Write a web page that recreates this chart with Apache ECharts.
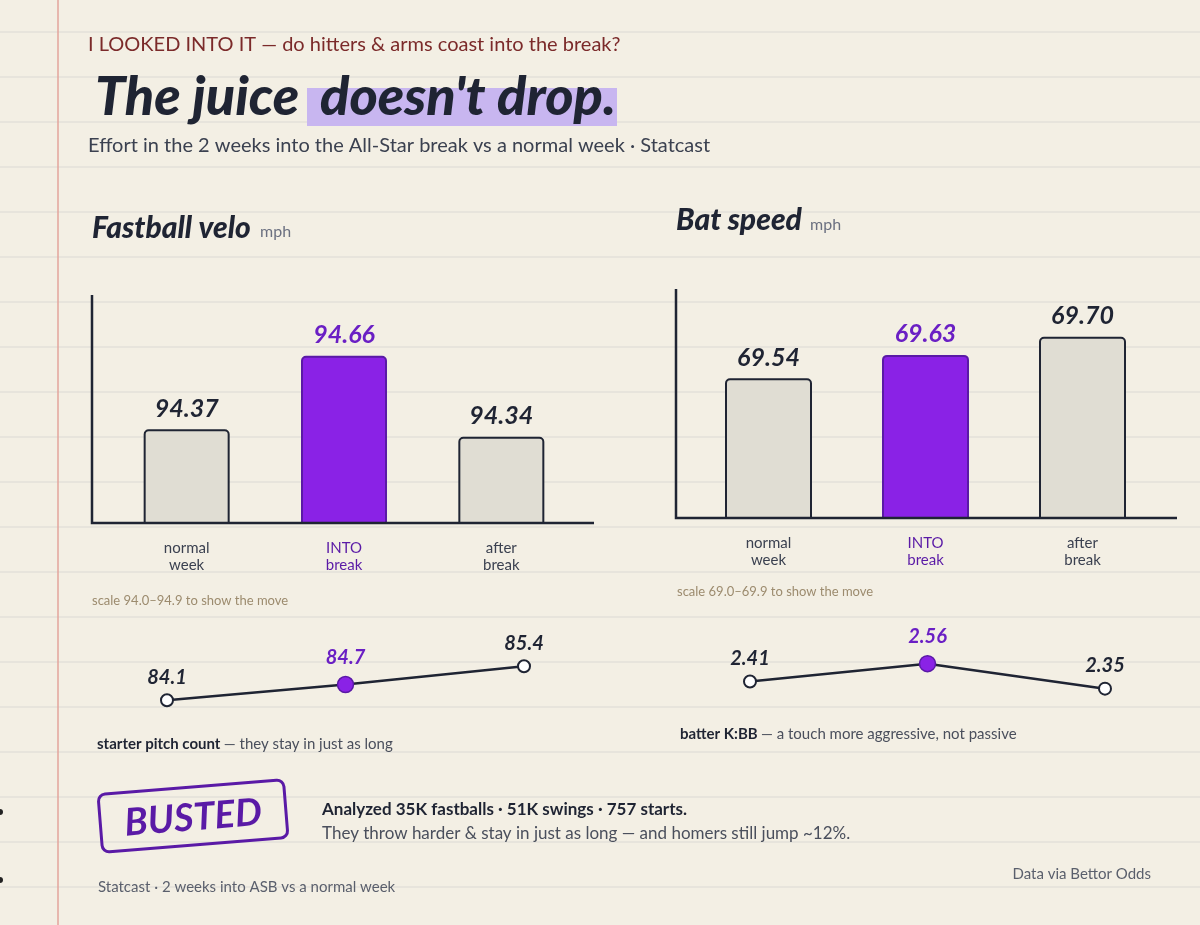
<!DOCTYPE html>
<html>
<head>
<meta charset="utf-8">
<script src="https://cdn.jsdelivr.net/npm/echarts@6/dist/echarts.min.js"></script>
<style>
html, body { margin: 0; padding: 0; background: #f3efe4; }
#main { width: 1200px; height: 925px; }
</style>
</head>
<body>
<div id="main"></div>
<script>
// data
var categories = ["normal\nweek", "INTO\nbreak", "after\nbreak"];
var fastballVelo = [94.37, 94.66, 94.34];
var batSpeed = [69.54, 69.63, 69.70];
var pitchCount = [84.1, 84.7, 85.4];
var kbbRatio = [2.41, 2.56, 2.35];
var highlightIdx = 1;

var INK = "#1f2433";
var PURPLE = "#8a22e6";
var PURPLE_DARK = "#5a1aa6";
var GREY_BAR = "#e0ddd3";
var HAND = "Lato, 'Noto Sans', sans-serif";

function barData(vals) {
    return vals.map(function (v, i) {
        var hot = i === highlightIdx;
        return {
            value: v,
            itemStyle: {
                color: hot ? PURPLE : GREY_BAR,
                borderColor: hot ? PURPLE_DARK : INK,
                borderWidth: 2,
                borderRadius: [4, 4, 0, 0]
            },
            label: { color: hot ? "#6a1fc4" : INK }
        };
    });
}

function lineData(vals) {
    return vals.map(function (v, i) {
        if (i !== highlightIdx) return v;
        return {
            value: v,
            symbol: "circle",
            symbolSize: 16,
            itemStyle: { color: PURPLE, borderColor: PURPLE_DARK, borderWidth: 1.5 },
            label: { color: "#6a1fc4", distance: 8 }
        };
    });
}

function catAxis(idx, gap) {
    return {
        type: "category",
        gridIndex: idx,
        data: categories,
        boundaryGap: gap,
        axisLine: { show: false },
        axisTick: { show: false },
        axisLabel: {
            show: gap,
            margin: 17,
            fontFamily: HAND,
            fontSize: 15,
            lineHeight: 17,
            color: function (val, i) { return i === highlightIdx ? PURPLE_DARK : "#3b4150"; }
        }
    };
}

function valAxis(idx, min, max) {
    return { type: "value", gridIndex: idx, min: min, max: max, show: false };
}

// notebook paper
var paper = [];
for (var y = 32; y < 925; y += 45) {
    paper.push({
        type: "line", z: -10, silent: true,
        shape: { x1: 0, y1: y, x2: 1200, y2: y },
        style: { stroke: "#dcd9d3", lineWidth: 1.2 }
    });
}
paper.push({
    type: "line", z: -9, silent: true,
    shape: { x1: 58, y1: 0, x2: 58, y2: 925 },
    style: { stroke: "#e3a49c", lineWidth: 1.5 }
});
paper.push({ type: "circle", shape: { cx: 0, cy: 812, r: 3 }, style: { fill: "#222" } });
paper.push({ type: "circle", shape: { cx: 0, cy: 880, r: 3 }, style: { fill: "#222" } });

function txt(x, y, text, font, fill, align) {
    return {
        type: "text", x: x, y: y,
        style: { text: text, font: font, fill: fill, textAlign: align || "left", textVerticalAlign: "middle" }
    };
}

var texts = [
    txt(88, 45, "I LOOKED INTO IT — do hitters & arms coast into the break?", "20px " + HAND, "#7b2a2a"),
    { type: "rect", shape: { x: 307, y: 88, width: 310, height: 38 }, style: { fill: "#c8b6f0" } },
    txt(95, 98, "The juice", "italic 900 54px " + HAND, INK),
    txt(320, 98, "doesn't drop.", "italic 900 54px " + HAND, INK),
    txt(88, 146, "Effort in the 2 weeks into the All-Star break vs a normal week · Statcast", "20px " + HAND, "#3b4150"),
    txt(92, 228, "Fastball velo", "italic 900 30px " + HAND, INK),
    txt(260, 232, "mph", "16px " + HAND, "#6b7080"),
    txt(676, 220, "Bat speed", "italic 900 30px " + HAND, INK),
    txt(810, 225, "mph", "16px " + HAND, "#6b7080"),
    txt(92, 601, "scale 94.0–94.9 to show the move", "13px " + HAND, "#9c8b6e"),
    txt(677, 592, "scale 69.0–69.9 to show the move", "13px " + HAND, "#9c8b6e"),
    {
        type: "text", x: 97, y: 744,
        style: {
            text: "{b|starter pitch count} {g|— they stay in just as long}",
            textVerticalAlign: "middle",
            rich: {
                b: { font: "bold 15px " + HAND, fill: INK },
                g: { font: "15px " + HAND, fill: "#4a4f5c" }
            }
        }
    },
    {
        type: "text", x: 680, y: 734,
        style: {
            text: "{b|batter K:BB} {g|— a touch more aggressive, not passive}",
            textVerticalAlign: "middle",
            rich: {
                b: { font: "bold 15px " + HAND, fill: INK },
                g: { font: "15px " + HAND, fill: "#4a4f5c" }
            }
        }
    },
    // axes drawn by hand, they run past the bar bands
    {
        type: "polyline", z: 5,
        shape: { points: [[92, 295], [92, 523], [594, 523]] },
        style: { stroke: INK, lineWidth: 2.5, fill: null }
    },
    {
        type: "polyline", z: 5,
        shape: { points: [[676, 289], [676, 518], [1177, 518]] },
        style: { stroke: INK, lineWidth: 2.5, fill: null }
    },
    // stamp
    {
        type: "group", x: 193, y: 816, rotation: 0.08,
        children: [
            {
                type: "rect",
                shape: { x: -93, y: -29, width: 186, height: 58, r: 7 },
                style: { fill: null, stroke: PURPLE_DARK, lineWidth: 3 }
            },
            {
                type: "text", x: 0, y: 2,
                style: { text: "BUSTED", font: "italic bold 38px " + HAND, fill: PURPLE_DARK, textAlign: "center", textVerticalAlign: "middle" }
            }
        ]
    },
    txt(322, 810, "Analyzed 35K fastballs · 51K swings · 757 starts.", "bold 17px " + HAND, INK),
    txt(322, 834, "They throw harder & stay in just as long — and homers still jump ~12%.", "17px " + HAND, "#4a4f5c"),
    txt(98, 887, "Statcast · 2 weeks into ASB vs a normal week", "15px " + HAND, "#5a5f6c"),
    txt(1151, 874, "Data via Bettor Odds", "15px " + HAND, "#5a5f6c", "right")
];

var myChart = echarts.init(document.getElementById("main"));
var option = {
    backgroundColor: "#f3efe4",
    animation: false,
    grid: [
        { left: 108, width: 472, top: 295, height: 228 },
        { left: 690, width: 471, top: 285, height: 233 },
        { left: 167, width: 357, top: 650.5, height: 78.6 },
        { left: 750, width: 355, top: 647, height: 59.5 }
    ],
    xAxis: [catAxis(0, true), catAxis(1, true), catAxis(2, false), catAxis(3, false)],
    yAxis: [valAxis(0, 94.0, 94.9), valAxis(1, 69.0, 69.9), valAxis(2, 83, 86), valAxis(3, 2.2, 2.7)],
    series: [
        {
            type: "bar", xAxisIndex: 0, yAxisIndex: 0, barWidth: 86,
            data: barData(fastballVelo),
            label: {
                show: true, position: "top", distance: 8,
                fontFamily: HAND, fontSize: 25, fontStyle: "italic", fontWeight: "bold",
                formatter: function (p) { return p.value.toFixed(2); }
            }
        },
        {
            type: "bar", xAxisIndex: 1, yAxisIndex: 1, barWidth: 87,
            data: barData(batSpeed),
            label: {
                show: true, position: "top", distance: 8,
                fontFamily: HAND, fontSize: 25, fontStyle: "italic", fontWeight: "bold",
                formatter: function (p) { return p.value.toFixed(2); }
            }
        },
        {
            type: "line", xAxisIndex: 2, yAxisIndex: 2,
            data: lineData(pitchCount),
            symbol: "emptyCircle", symbolSize: 12,
            lineStyle: { color: INK, width: 2.5 },
            itemStyle: { color: INK, borderWidth: 2.2 },
            label: {
                show: true, position: "top", distance: 6, color: INK,
                fontFamily: HAND, fontSize: 20, fontStyle: "italic", fontWeight: "bold",
                formatter: function (p) { return p.value.toFixed(1); }
            }
        },
        {
            type: "line", xAxisIndex: 3, yAxisIndex: 3,
            data: lineData(kbbRatio),
            symbol: "emptyCircle", symbolSize: 12,
            lineStyle: { color: INK, width: 2.5 },
            itemStyle: { color: INK, borderWidth: 2.2 },
            label: {
                show: true, position: "top", distance: 6, color: INK,
                fontFamily: HAND, fontSize: 20, fontStyle: "italic", fontWeight: "bold",
                formatter: function (p) { return p.value.toFixed(2); }
            }
        }
    ],
    graphic: paper.concat(texts)
};
if (option && typeof option === "object") {
    myChart.setOption(option, true);
}
</script>
</body>
</html>
